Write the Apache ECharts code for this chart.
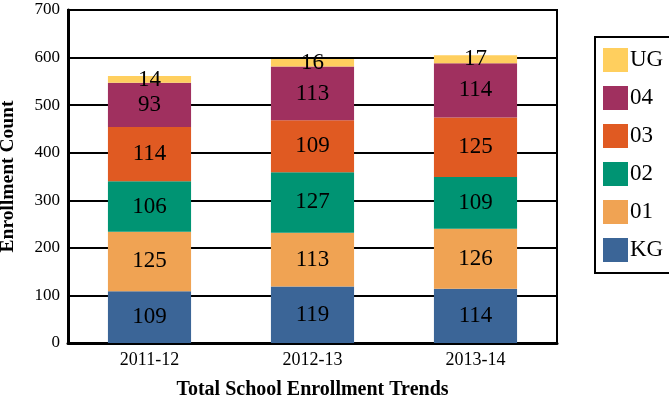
<!DOCTYPE html>
<html><head><meta charset="utf-8">
<script src="https://cdn.jsdelivr.net/npm/echarts@6/dist/echarts.min.js"></script>
<style>html,body{margin:0;padding:0;background:#fff}#c{width:669px;height:400px}</style>
</head><body><div id="c"></div>
<script>
const categories = ['2011-12', '2012-13', '2013-14'];
const seriesNames = ['KG', '01', '02', '03', '04', 'UG'];
const KG = [109, 119, 114];
const G01 = [125, 113, 126];
const G02 = [106, 127, 109];
const G03 = [114, 109, 125];
const G04 = [93, 113, 114];
const UG = [14, 16, 17];
const yTicks = [0, 100, 200, 300, 400, 500, 600, 700];
const colors = ['#3B6597', '#F0A353', '#009473', '#E05A22', '#A0305F', '#FFCF5E'];
const values = [KG, G01, G02, G03, G04, UG];
const font = '"Liberation Serif", "Times New Roman", serif';

const chart = echarts.init(document.getElementById('c'));
chart.setOption({
  animation: false,
  textStyle: { fontFamily: font },
  grid: { left: 68, right: 112, top: 10, bottom: 57, show: true, borderColor: '#000', borderWidth: 2,
          containLabel: false, outerBoundsMode: 'none' },
  legend: {
    data: seriesNames.slice().reverse(),
    orient: 'vertical',
    left: 595, top: 37,
    itemWidth: 25, itemHeight: 24, itemGap: 14,
    padding: [11, 60, 11, 8],
    borderColor: '#000', borderWidth: 2,
    textStyle: { fontFamily: font, fontSize: 23, color: '#000', padding: [0, 0, 0, -3] },
    icon: 'rect'
  },
  xAxis: {
    type: 'category', data: categories,
    name: 'Total School Enrollment Trends', nameLocation: 'middle', nameGap: 37,
    nameTextStyle: { fontFamily: font, fontSize: 20, fontWeight: 'bold', color: '#000' },
    axisLine: { lineStyle: { color: '#000', width: 3 } },
    axisTick: { show: false },
    axisLabel: { fontFamily: font, fontSize: 18, color: '#000', margin: 8 }
  },
  yAxis: {
    type: 'value', min: yTicks[0], max: yTicks[yTicks.length - 1], interval: 100,
    name: 'Enrollment Count', nameLocation: 'middle', nameGap: 50,
    nameTextStyle: { fontFamily: font, fontSize: 19.5, fontWeight: 'bold', color: '#000' },
    axisLine: { show: true, lineStyle: { color: '#000', width: 3 } },
    axisTick: { show: false },
    axisLabel: { fontFamily: font, fontSize: 17, color: '#000', margin: 8 },
    splitLine: { lineStyle: { color: '#000', width: 2 } }
  },
  series: seriesNames.map((n, i) => ({
    name: n, type: 'bar', stack: 'all', data: values[i], barWidth: '51%',
    itemStyle: { color: colors[i] },
    label: { show: true, position: 'inside', color: '#000', fontFamily: font, fontSize: 23 }
  }))
});
</script></body></html>
